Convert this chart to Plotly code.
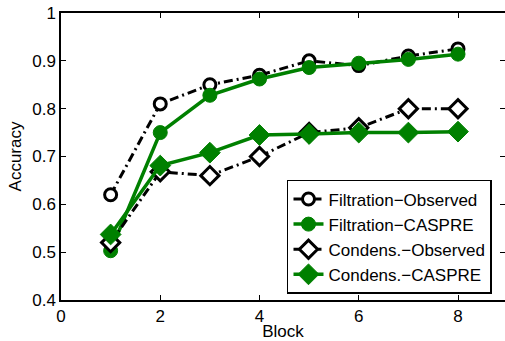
import plotly.graph_objects as go

blocks = [1, 2, 3, 4, 5, 6, 7, 8]
filt_obs = [0.62, 0.81, 0.85, 0.87, 0.90, 0.89, 0.91, 0.925]
filt_caspre = [0.503, 0.75, 0.828, 0.862, 0.886, 0.895, 0.903, 0.914]
cond_obs = [0.52, 0.668, 0.66, 0.70, 0.75, 0.76, 0.80, 0.80]
cond_caspre = [0.537, 0.681, 0.708, 0.745, 0.747, 0.75, 0.75, 0.752]
names = ["Filtration\u2212Observed", "Filtration\u2212CASPRE", "Condens.\u2212Observed", "Condens.\u2212CASPRE"]
xticks = [0, 2, 4, 6, 8]
yticks = [0.4, 0.5, 0.6, 0.7, 0.8, 0.9, 1.0]
yticklabels = ["0.4", "0.5", "0.6", "0.7", "0.8", "0.9", "1"]

GREEN = "#008000"
DASH = "9px,4px,2px,4px"

fig = go.Figure()
fig.add_trace(go.Scatter(x=blocks, y=filt_obs, name=names[0], mode="lines+markers",
                         line=dict(color="black", width=3, dash=DASH),
                         marker=dict(symbol="circle", size=12, color="white",
                                     line=dict(color="black", width=3))))
fig.add_trace(go.Scatter(x=blocks, y=filt_caspre, name=names[1], mode="lines+markers",
                         line=dict(color=GREEN, width=3.5),
                         marker=dict(symbol="circle", size=14, color=GREEN,
                                     line=dict(color=GREEN, width=1))))
fig.add_trace(go.Scatter(x=blocks, y=cond_obs, name=names[2], mode="lines+markers",
                         line=dict(color="black", width=3, dash=DASH),
                         marker=dict(symbol="diamond", size=14, color="white",
                                     line=dict(color="black", width=3))))
fig.add_trace(go.Scatter(x=blocks, y=cond_caspre, name=names[3], mode="lines+markers",
                         line=dict(color=GREEN, width=3.5),
                         marker=dict(symbol="diamond", size=16, color=GREEN,
                                     line=dict(color=GREEN, width=1))))
# invisible trace to carry right-side ticks
fig.add_trace(go.Scatter(x=[None], y=[None], yaxis="y2", showlegend=False, hoverinfo="skip"))

FAM = "Liberation Sans, Arial, sans-serif"
font = dict(family=FAM, size=17, color="black")
fig.update_layout(
    width=505, height=341,
    margin=dict(l=61, r=0, t=13, b=41),
    paper_bgcolor="white", plot_bgcolor="white",
    font=font,
    showlegend=True,
    xaxis=dict(range=[0, 8.947], tickvals=xticks, ticktext=[str(v) for v in xticks],
               ticks="inside", ticklen=5, tickwidth=1, tickcolor="black",
               showline=True, linecolor="black", linewidth=1.5, mirror="ticks",
               showgrid=False, zeroline=False, automargin=False, ticklabelstandoff=0,
               title=dict(text="Block", standoff=0, font=font)),
    yaxis=dict(range=[0.4, 1.0], tickvals=yticks, ticktext=yticklabels,
               ticks="inside", ticklen=5, tickwidth=1, tickcolor="black",
               showline=True, linecolor="black", linewidth=1.5,
               showgrid=False, zeroline=False, automargin=False,
               title=dict(text="Accuracy", standoff=6, font=font)),
    yaxis2=dict(range=[0.4, 1.0], tickvals=yticks, overlaying="y", side="right",
                ticks="inside", ticklen=5, tickwidth=1, tickcolor="black", automargin=False,
                showticklabels=False, showline=False, showgrid=False, zeroline=False),
    legend=dict(x=0.509, y=0.021, xanchor="left", yanchor="bottom",
                bgcolor="white", bordercolor="black", borderwidth=1.5,
                font=dict(family=FAM, size=17, color="black"),
                itemwidth=30, tracegroupgap=0,
                traceorder="normal"),
)

fig.write_html("out.html", config={"displayModeBar": False},
               post_script="document.body.style.margin='0';document.body.style.padding='0';")
